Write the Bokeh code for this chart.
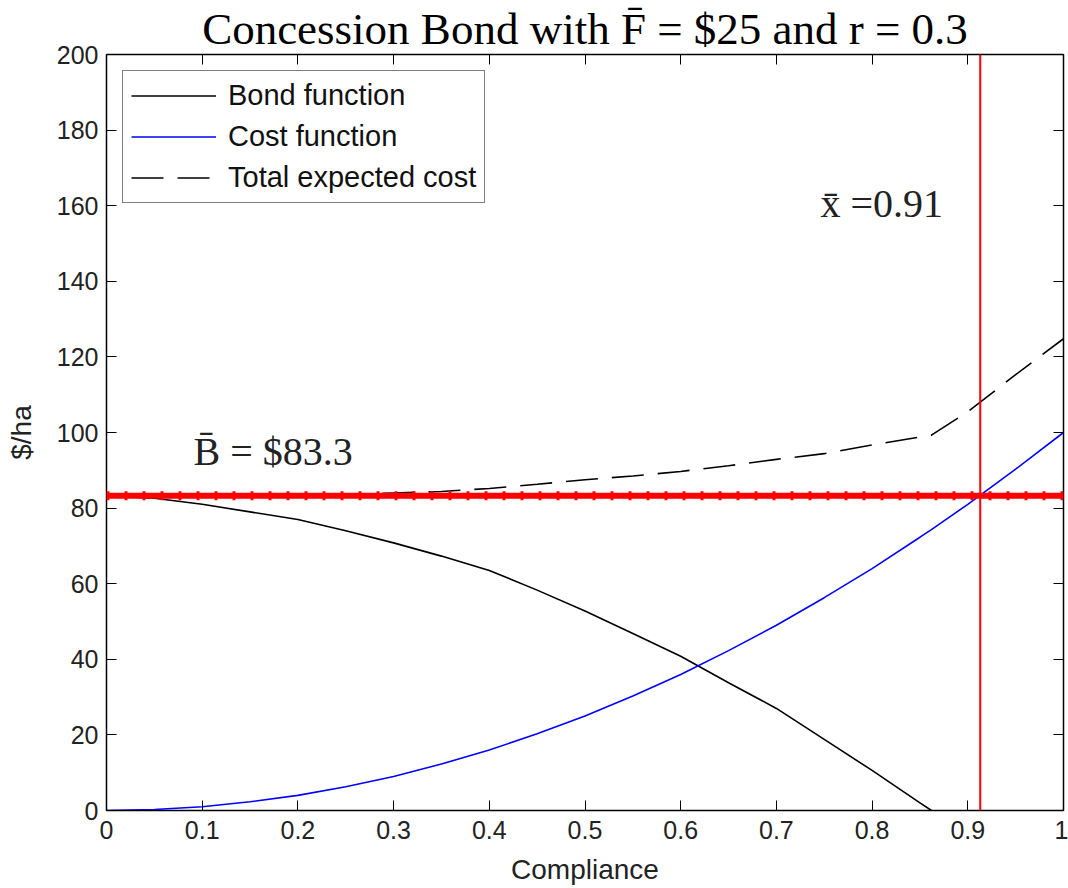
from bokeh.plotting import figure
from bokeh.models import (LinearAxis, Label, Span, Legend, LegendItem, FixedTicker,
                          Range1d, ColumnDataSource, CustomJSTickFormatter)
from bokeh.embed import file_html
from bokeh.resources import INLINE

# ---- data ----
compliance = [0.0, 0.05, 0.10, 0.15, 0.20, 0.25, 0.30, 0.35, 0.40, 0.45, 0.50,
              0.55, 0.60, 0.65, 0.70, 0.75, 0.80, 0.85, 0.862, 0.90, 0.95, 1.0]
bond = [83.3, 82.6, 81.0, 79.0, 77.0, 74.0, 70.8, 67.3, 63.5, 58.3, 52.8,
        46.8, 40.8, 33.8, 27.0, 18.8, 10.6, 2.0, 0.0]
cost = [0.0, 0.25, 1.0, 2.3, 4.0, 6.3, 9.0, 12.3, 16.0, 20.3, 25.0,
        30.3, 36.0, 42.3, 49.0, 56.3, 64.0, 72.3, 74.3, 81.0, 90.3, 100.0]
total = [83.3, 83.3, 83.3, 83.3, 83.4, 83.6, 84.0, 84.4, 85.2, 86.3, 87.5,
         88.5, 89.7, 91.2, 92.9, 94.4, 96.7, 98.8, 99.3, 105.5, 115.3, 124.8]
bond_bar = 83.3
x_bar = 0.913
x_ticks = [0, 0.1, 0.2, 0.3, 0.4, 0.5, 0.6, 0.7, 0.8, 0.9, 1.0]
y_ticks = [0, 20, 40, 60, 80, 100, 120, 140, 160, 180, 200]

title_text = "Concession Bond with F\u0304 = $25 and r = 0.3"
bond_label = "B\u0304 = $83.3"
xbar_label = "x\u0304 =0.91"

SANS = "Liberation Sans"
SERIF = "Liberation Serif"

src_bond = ColumnDataSource(dict(x=compliance[:len(bond)], y=bond))
src_cost = ColumnDataSource(dict(x=compliance, y=cost))
src_total = ColumnDataSource(dict(x=compliance, y=total))

p = figure(width=1068, height=888, x_range=Range1d(0, 1), y_range=Range1d(0, 200),
           output_backend="svg", toolbar_location=None,
           min_border_left=106, min_border_right=5, min_border_top=52, min_border_bottom=78)

p.title.text = title_text
p.title.text_font = SERIF
p.title.text_font_size = "45px"
p.title.text_font_style = "normal"
p.title.align = "center"
p.title.text_color = "black"
p.title.standoff = 2

p.xgrid.visible = False
p.ygrid.visible = False
p.outline_line_color = "black"
p.outline_line_width = 1.5
p.background_fill_color = "white"
p.border_fill_color = "white"

fmt = CustomJSTickFormatter(code="return tick.toFixed(1).replace(/\\.0$/, '');")
blank = CustomJSTickFormatter(code="return '';")

for ax in p.xaxis:
    ax.ticker = FixedTicker(ticks=x_ticks)
    ax.formatter = fmt
    ax.axis_label = "Compliance"
for ax in p.yaxis:
    ax.ticker = FixedTicker(ticks=y_ticks)
    ax.axis_label = "$/ha"

for ax in list(p.xaxis) + list(p.yaxis):
    ax.major_tick_in = 10
    ax.major_tick_out = 0
    ax.minor_tick_line_color = None
    ax.axis_line_color = "black"
    ax.major_tick_line_color = "black"
    ax.major_label_text_font = SANS
    ax.major_label_text_font_size = "25px"
    ax.major_label_text_color = "#222222"
    ax.axis_label_text_font = SANS
    ax.axis_label_text_font_size = "28px"
    ax.axis_label_text_font_style = "normal"
    ax.axis_label_text_color = "#222222"
    ax.major_label_standoff = 8
    ax.axis_label_standoff = 8
p.xaxis[0].major_label_standoff = 10
p.xaxis[0].axis_label_standoff = 12
p.yaxis[0].axis_label_standoff = 17

top = LinearAxis(ticker=FixedTicker(ticks=x_ticks), formatter=blank,
                 major_tick_in=10, major_tick_out=0,
                 minor_tick_line_color=None, major_label_standoff=0, axis_line_color="black")
right = LinearAxis(ticker=FixedTicker(ticks=y_ticks), formatter=blank,
                   major_tick_in=10, major_tick_out=0,
                   minor_tick_line_color=None, major_label_standoff=0, axis_line_color="black")
p.add_layout(top, "above")
p.add_layout(right, "right")

r_bond = p.line("x", "y", source=src_bond, line_color="black", line_width=1.6)
r_cost = p.line("x", "y", source=src_cost, line_color="blue", line_width=1.6)
r_total = p.line("x", "y", source=src_total, line_color="black", line_width=1.6,
                 line_dash="32 14")

p.add_layout(Span(location=bond_bar, dimension="width", line_color="red", line_width=6))
p.add_layout(Span(location=bond_bar, dimension="width", line_color="red", line_width=9,
                  line_dash="3 15"))
p.add_layout(Span(location=x_bar, dimension="height", line_color="red", line_width=2))

p.add_layout(Label(x=0.091, y=95, text=bond_label, text_font=SERIF,
                   text_font_size="40px", text_color="#222222", text_baseline="alphabetic"))
p.add_layout(Label(x=0.746, y=160.5, text=xbar_label, text_font=SERIF,
                   text_font_size="40px", text_color="#222222", text_baseline="alphabetic"))

legend = Legend(items=[LegendItem(label="Bond function", renderers=[r_bond]),
                       LegendItem(label="Cost function", renderers=[r_cost]),
                       LegendItem(label="Total expected cost", renderers=[r_total])],
                location="top_left", margin=16, padding=8, spacing=8,
                glyph_width=85, glyph_height=33, label_height=33, label_standoff=12,
                label_text_font=SANS, label_text_font_size="29px",
                label_text_color="#111111",
                border_line_color="black", border_line_width=1.5,
                background_fill_color="white", background_fill_alpha=1.0)
p.add_layout(legend)

open("out.html", "w").write(file_html(p, INLINE))
